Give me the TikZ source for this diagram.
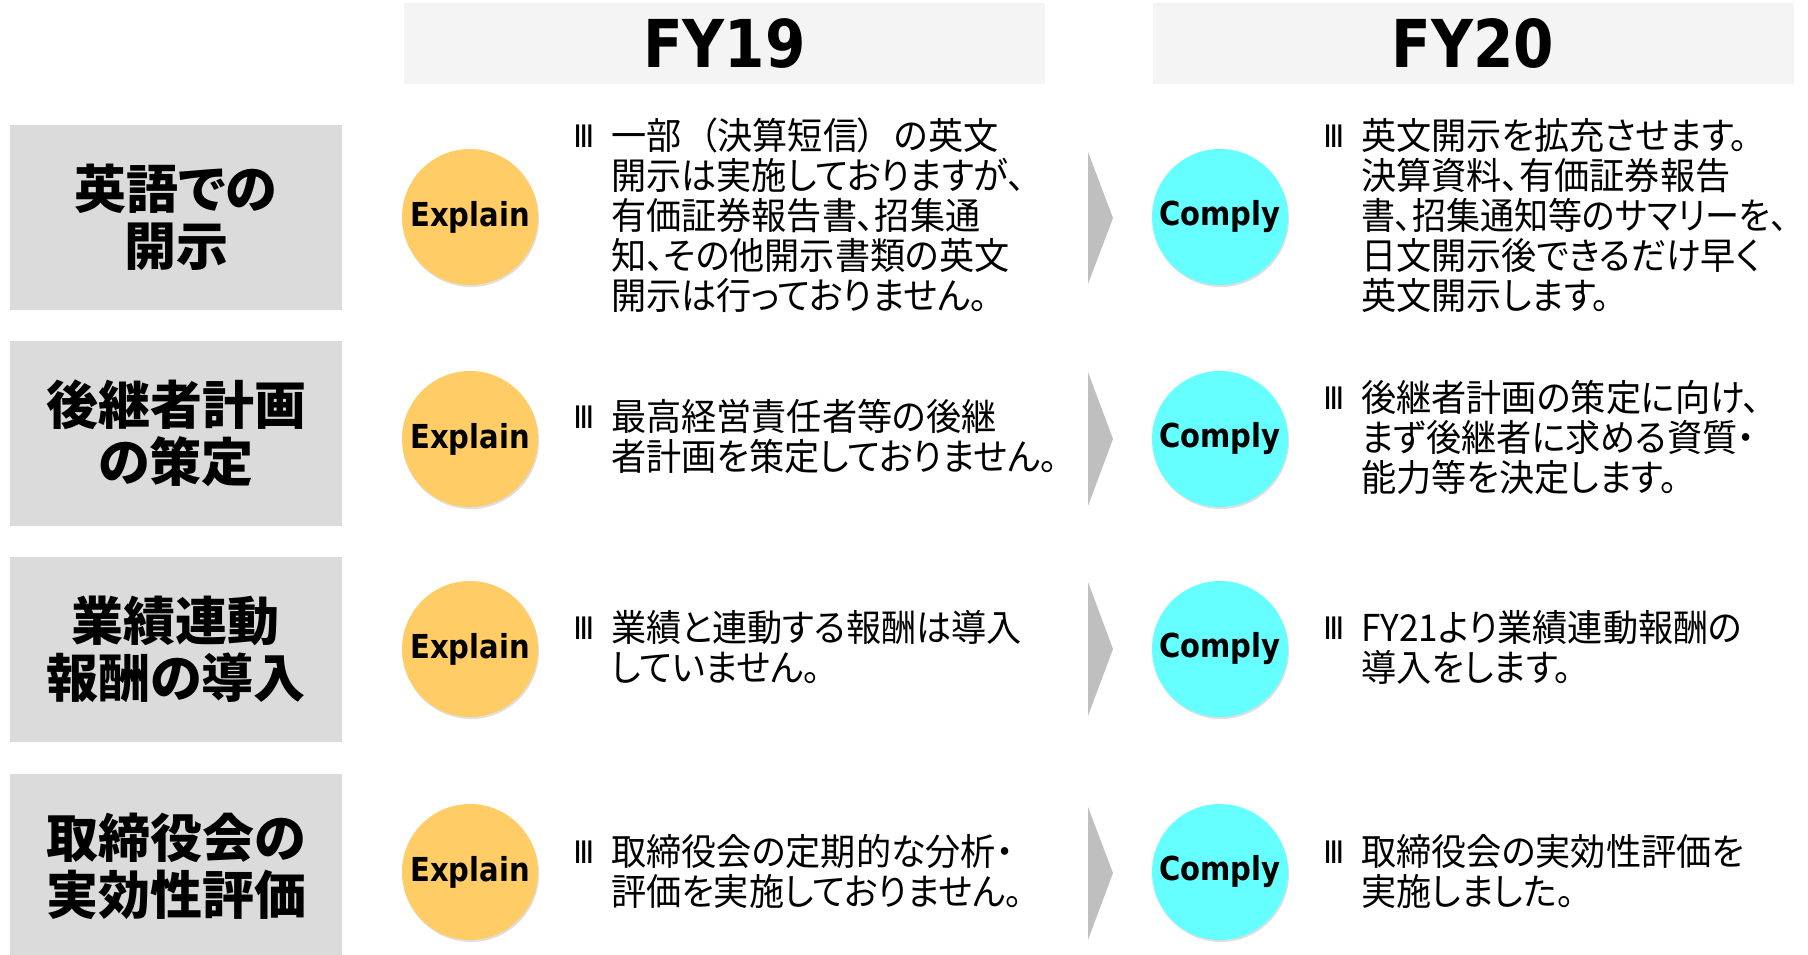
\documentclass[tikz,border=0pt]{standalone}
\usepackage{fontspec}
\setmainfont{Noto Sans CJK JP}[RawFeature=+palt]
\newfontfamily\bodyfont{Noto Sans CJK JP}[RawFeature=+palt, FakeStretch=0.95]
\newfontfamily\tightfont{Noto Sans CJK JP}[RawFeature=+palt, FakeStretch=0.92]
\newfontfamily\latinb{DejaVu Sans}[FakeStretch=0.88]
\newfontfamily\bulletfont{DejaVu Sans}
\usetikzlibrary{shadows}
\definecolor{hdrgray}{HTML}{F4F4F4}
\definecolor{rowgray}{HTML}{DBDBDB}
\definecolor{explainc}{HTML}{FFCC66}
\definecolor{complyc}{HTML}{66FFFF}
\definecolor{chevc}{HTML}{BFBFBF}
\begin{document}
\begin{tikzpicture}[x=1pt,y=-1pt,
  hdrbox/.style={fill=hdrgray, minimum width=641, minimum height=81, inner sep=0pt,
    font=\latinb\bfseries\fontsize{66}{66}\selectfont},
  rowlab/.style={fill=rowgray, minimum width=332, minimum height=185, inner sep=0pt,
    align=center, font=\bfseries\fontsize{52}{57}\selectfont},
  badge/.style={circle, minimum size=136, inner sep=0pt,
    drop shadow={opacity=0.25, shadow xshift=1pt, shadow yshift=-2pt},
    font=\latinb\bfseries\fontsize{33}{33}\selectfont},
  explainb/.style={badge, fill=explainc},
  complyb/.style={badge, fill=complyc},
  body/.style={anchor=north west, inner sep=0pt, align=left, font=\bodyfont\fontsize{37}{40}\selectfont},
  bul/.style={anchor=west, inner sep=0pt, font=\bulletfont\fontsize{31}{31}\selectfont},
  chev/.style={fill=chevc}
]
\useasboundingbox (0,0) rectangle (1808,954);

% headers
\node[hdrbox] (h19) at (724.5,43.5) {FY19};
\node[hdrbox] (h20) at (1473,43.5) {FY20};

% row labels
\node[rowlab] (r1) at (176,217.5) {英語での\\開示};
\node[rowlab] (r2) at (176,433.5) {後継者計画\\の策定};
\node[rowlab] (r3) at (176,649.5) {業績連動\\報酬の導入};
\node[rowlab, minimum height=184] (r4) at (176,866) {取締役会の\\実効性評価};

% badges
\node[explainb] (e1) at (470,217) {Explain};
\node[explainb] (e2) at (470,439) {Explain};
\node[explainb] (e3) at (470,649) {Explain};
\node[explainb] (e4) at (470,872) {Explain};
\node[complyb] (c1) at (1220,217) {Comply};
\node[complyb] (c2) at (1220,439) {Comply};
\node[complyb] (c3) at (1220,649) {Comply};
\node[complyb] (c4) at (1220,872) {Comply};

% chevrons
\fill[chev] (1088,152) -- (1113,218) -- (1088,284) -- cycle;
\fill[chev] (1088,372) -- (1113,439) -- (1088,506) -- cycle;
\fill[chev] (1088,582) -- (1113,649) -- (1088,716) -- cycle;
\fill[chev] (1088,807) -- (1113,873) -- (1088,940) -- cycle;

% FY19 texts
\node[bul] (b1) at (573,136) {Ⅲ};
\node[body] (t1) at (611,118) {一部\kern0.5em（決算短信）\kern0.5emの英文\\開示は実施しておりますが、\\有価証券報告書、招集通\\知、その他開示書類の英文\\開示は行っておりません。};
\node[bul] (b2) at (573,417) {Ⅲ};
\node[body] (t2) at (611,399) {最高経営責任者等の後継\\者計画を策定しておりません。};
\node[bul] (b3) at (573,628) {Ⅲ};
\node[body] (t3) at (611,610) {業績と連動する報酬は導入\\していません。};
\node[bul] (b4) at (573,852) {Ⅲ};
\node[body] (t4) at (611,834) {取締役会の定期的な分析・\\評価を実施しておりません。};

% FY20 texts
\node[bul] (d1) at (1323,136) {Ⅲ};
\node[body] (u1) at (1361,118) {英文開示を拡充させます。\\決算資料、有価証券報告\\{\tightfont\fontsize{37}{40}\selectfont 書、招集通知等のサマリーを、}\\日文開示後できるだけ早く\\英文開示します。};
\node[bul] (d2) at (1323,398) {Ⅲ};
\node[body] (u2) at (1361,380) {後継者計画の策定に向け、\\まず後継者に求める資質・\\能力等を決定します。};
\node[bul] (d3) at (1323,628) {Ⅲ};
\node[body] (u3) at (1361,610) {FY21より業績連動報酬の\\導入をします。};
\node[bul] (d4) at (1323,852) {Ⅲ};
\node[body] (u4) at (1361,834) {取締役会の実効性評価を\\実施しました。};
\end{tikzpicture}
\end{document}
